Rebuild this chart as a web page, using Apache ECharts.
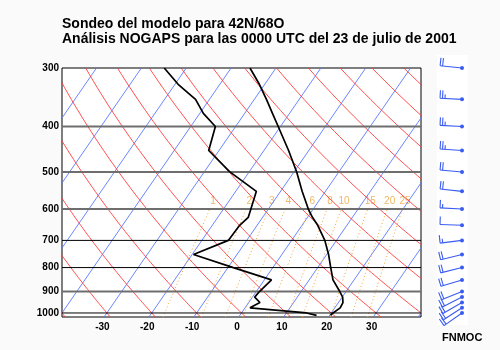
<!DOCTYPE html>
<html>
<head>
<meta charset="utf-8">
<script src="https://cdn.jsdelivr.net/npm/echarts@6/dist/echarts.min.js"></script>
<style>
html, body { margin: 0; padding: 0; background: #fafafa; }
#chart { width: 500px; height: 350px; }
</style>
</head>
<body>
<div id="chart"></div>
<script>
// sounding: pressure (hPa), temperature and dew point (degC)
var levels = [1012, 1000, 975, 950, 925, 900, 850, 800, 750, 700, 650, 625, 600, 550, 500, 450, 400, 375, 350, 325, 300];
var temperature = [20.2, 20.4, 21.2, 21.0, 20.1, 18.6, 15.3, 12.9, 10.4, 7.4, 3.5, 1.1, -1.1, -5.2, -9.4, -14.5, -20.5, -23.8, -27.3, -31.2, -35.8];
var dewpoint = [17.1, 14.5, 1.1, 2.5, 0.5, 0.7, 1.6, -8.8, -19.7, -14.1, -13.9, -13.2, -13.9, -15.4, -24.3, -32.3, -34.5, -39.2, -43.1, -49.3, -54.9];

// winds: direction (deg, from) and speed (kt)
var windLevels = [300, 350, 400, 450, 500, 550, 600, 650, 700, 750, 800, 850, 900, 925, 950, 975, 1000];
var windDir = [276, 273, 273, 274, 275, 276, 273, 272, 263, 256, 256, 253, 248, 243, 240, 237, 235];
var windSpeed = [20, 25, 25, 25, 20, 20, 15, 10, 15, 20, 20, 20, 20, 20, 20, 20, 20];

// background lines
var isobarsGray = [400, 500, 600, 900];
var isobarsBlack = [700, 800, 1000];
var pressureLabels = [300, 400, 500, 600, 700, 800, 900, 1000];
var tempLabels = [-30, -20, -10, 0, 10, 20, 30];
var isotherms = [-70, -60, -50, -40, -30, -20, -10, 0, 10, 20, 30, 40];
var dryAdiabats = [-40, -30, -20, -10, 0, 10, 20, 30, 40, 50, 60, 70, 80, 90, 100, 110, 120];
var mixingRatios = [1, 2, 3, 4, 6, 8, 10, 15, 20, 25];

var K = 31.3; // skew of the isotherms
function skewX(t, p) { return t + K * Math.log(1000 / p); }
function dryT(th, p) { return (th + 273.15) * Math.pow(p / 1000, 0.2857) - 273.15; }
function mixT(w, p) {
    var e = w * p / (622 + w);
    var l = Math.log(e / 6.112);
    return 243.5 * l / (17.67 - l);
}

var fullP = [];
for (var p = 1020; p >= 300; p -= 10) fullP.push(p);
var lowP = fullP.filter(function (p) { return p >= 600; });

var series = [];
function addLine(data, color, width, type) {
    series.push({
        type: 'line', data: data, showSymbol: false, symbol: 'none', silent: true,
        lineStyle: { color: color, width: width, type: type || 'solid' }
    });
}

isotherms.forEach(function (t) {
    addLine([[skewX(t, 1020), 1020], [skewX(t, 300), 300]], '#5a78ff', 0.9);
});
dryAdiabats.forEach(function (th) {
    addLine(fullP.map(function (p) { return [skewX(dryT(th, p), p), p]; }), '#ff3b3b', 0.9);
});
mixingRatios.forEach(function (w) {
    addLine(lowP.map(function (p) { return [skewX(mixT(w, p), p), p]; }), '#f0a535', 1, [1, 2.5]);
});
isobarsGray.forEach(function (p) { addLine([[-40, p], [40, p]], '#6e6e6e', 2); });
isobarsBlack.forEach(function (p) { addLine([[-40, p], [40, p]], '#000', 1); });

series.push({
    type: 'scatter', symbolSize: 1, silent: true,
    itemStyle: { color: 'rgba(0,0,0,0)' },
    data: mixingRatios.map(function (w) { return [skewX(mixT(w, 578), 578), 578, w]; }),
    label: {
        show: true, position: 'inside', color: '#eaa63e', fontSize: 10,
        fontFamily: 'Liberation Sans',
        formatter: function (d) { return d.value[2]; }
    }
});

addLine(levels.map(function (p, i) { return [skewX(temperature[i], p), p]; }), '#000', 1.7);
addLine(levels.map(function (p, i) { return [skewX(dewpoint[i], p), p]; }), '#000', 1.7);

// wind barbs
series.push({
    type: 'custom', xAxisIndex: 1, yAxisIndex: 1, silent: true,
    data: windLevels.map(function (p, i) { return [p, windDir[i], windSpeed[i]]; }),
    renderItem: function (params, api) {
        var o = api.coord([32, api.value(0)]);
        var r = api.value(1) * Math.PI / 180;
        var spd = api.value(2);
        var sx = Math.sin(r), sy = -Math.cos(r);
        var bx = -sy, by = sx;
        var ex = o[0] + sx * 22, ey = o[1] + sy * 22;
        var st = { stroke: '#3a5cf0', lineWidth: 1.1 };
        var kids = [{ type: 'line', shape: { x1: o[0], y1: o[1], x2: ex, y2: ey }, style: st }];
        var pos = 0;
        for (var k = 0; k < Math.floor(spd / 10); k++) {
            var px = ex - sx * pos, py = ey - sy * pos;
            kids.push({ type: 'line', shape: { x1: px, y1: py, x2: px + bx * 8, y2: py + by * 8 }, style: st });
            pos += 2.5;
        }
        if (spd % 10 >= 5) {
            var hx = ex - sx * pos, hy = ey - sy * pos;
            kids.push({ type: 'line', shape: { x1: hx, y1: hy, x2: hx + bx * 4, y2: hy + by * 4 }, style: st });
        }
        kids.push({ type: 'circle', shape: { cx: o[0], cy: o[1], r: 2 }, style: { fill: '#3a5cf0' } });
        return { type: 'group', children: kids };
    }
});

var chart = echarts.init(document.getElementById('chart'));
chart.setOption({
    animation: false,
    backgroundColor: '#fafafa',
    title: {
        text: 'Sondeo del modelo para 42N/68O\nAnálisis NOGAPS para las 0000 UTC del 23 de julio de 2001',
        left: 62, top: 17, padding: 0,
        textStyle: { fontSize: 14, fontWeight: 'bold', color: '#000', fontFamily: 'Liberation Sans', lineHeight: 15 }
    },
    graphic: [
        { type: 'rect', shape: { x: 437, y: 55, width: 31, height: 270 }, style: { fill: '#fff' }, z: -1 },
        { type: 'text', x: 442, y: 332, style: { text: 'FNMOC', font: 'bold 11px "Liberation Sans"', fill: '#000' } }
    ],
    grid: [
        { left: 62, top: 68, width: 359, height: 249, show: true, backgroundColor: '#fff', borderColor: '#000', borderWidth: 1 },
        { left: 430, top: 68, width: 40, height: 249 }
    ],
    xAxis: [
        {
            type: 'value', min: -40, max: 40, gridIndex: 0,
            axisLine: { show: false }, axisTick: { show: false }, splitLine: { show: false },
            axisLabel: { customValues: tempLabels, fontSize: 10, fontWeight: 'bold', color: '#000', margin: 5,
                padding: [0, 9, 0, 0], fontFamily: 'Liberation Sans' }
        },
        { type: 'value', min: 0, max: 40, gridIndex: 1, show: false }
    ],
    yAxis: [
        {
            type: 'log', min: 300, max: 1020, inverse: true, gridIndex: 0,
            axisLine: { show: false }, axisTick: { show: false }, splitLine: { show: false },
            axisLabel: { customValues: pressureLabels, fontSize: 10, fontWeight: 'bold', color: '#000', margin: 3,
                fontFamily: 'Liberation Sans', formatter: function (v) { return String(Math.round(v)); } }
        },
        { type: 'log', min: 300, max: 1020, inverse: true, gridIndex: 1, show: false }
    ],
    series: series
});
</script>
</body>
</html>
